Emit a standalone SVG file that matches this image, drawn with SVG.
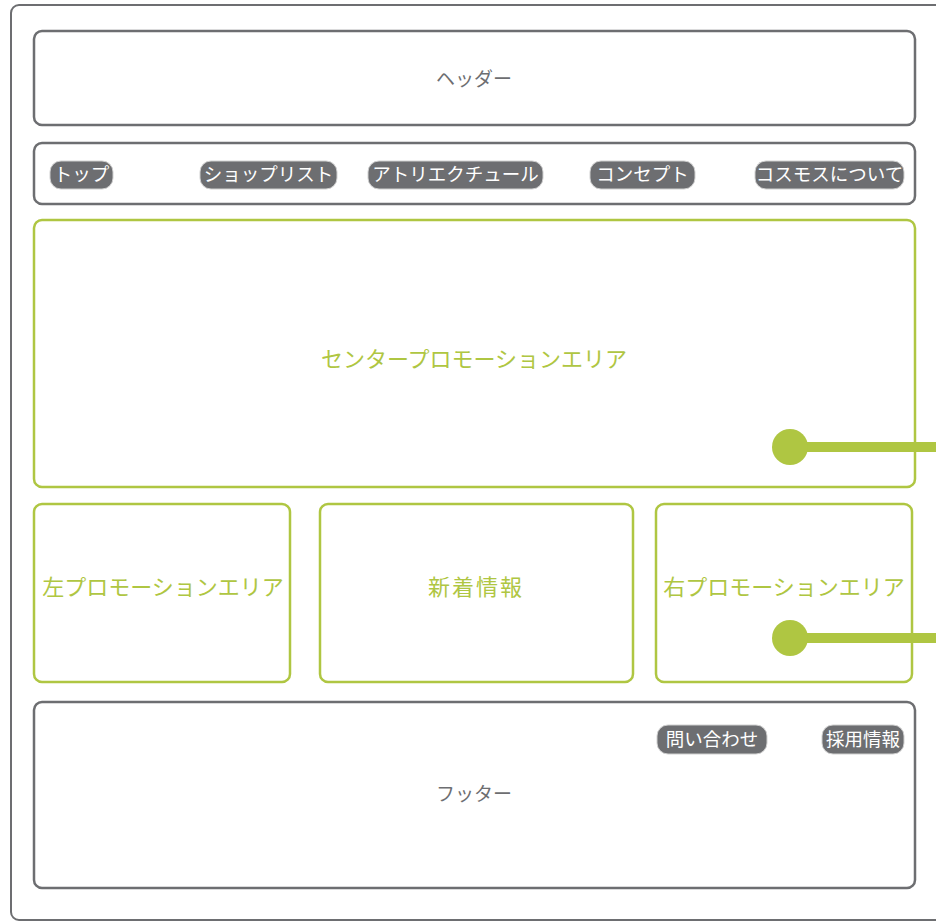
<svg xmlns="http://www.w3.org/2000/svg" width="936" height="922" viewBox="0 0 936 922">
<style>
.g{fill:#fff;stroke:#6d6e71;stroke-width:2.5}
.gr{fill:#fff;stroke:#afc642;stroke-width:2.5}
.pill{fill:#6d6e71;stroke:#d0d0d0;stroke-width:1}
.pt{font-family:"Noto Sans CJK JP","Noto Sans",sans-serif;font-size:18.5px;fill:#fff;text-anchor:middle;dominant-baseline:central}
.lt{font-family:"Noto Sans CJK JP","Noto Sans",sans-serif;font-size:19px;fill:#6d6e71;text-anchor:middle;dominant-baseline:central}
.gt{font-family:"Noto Sans CJK JP","Noto Sans",sans-serif;font-size:22px;fill:#afc642;text-anchor:middle;dominant-baseline:central}
.conn{stroke:#afc642;stroke-width:10;fill:none}
</style>
<rect width="936" height="922" fill="#fff"/>
<rect id="frame" x="11" y="5" width="940" height="915" rx="8" fill="#fff" stroke="#6d6e71" stroke-width="2"/>
<g id="header"><rect class="g" x="34" y="31" width="881" height="94" rx="8"/><text class="lt" x="474" y="77">ヘッダー</text></g>
<g id="nav"><rect class="g" x="34" y="143" width="881" height="61" rx="8"/></g>
<g id="nav-top"><rect class="pill" x="50" y="161" width="63" height="28" rx="11"/><text class="pt" x="81.5" y="173">トップ</text></g>
<g id="nav-shop"><rect class="pill" x="200" y="161" width="137" height="28" rx="11"/><text class="pt" x="268.5" y="173">ショップリスト</text></g>
<g id="nav-atelier"><rect class="pill" x="368" y="161" width="175" height="28" rx="11"/><text class="pt" x="455.5" y="173">アトリエクチュール</text></g>
<g id="nav-concept"><rect class="pill" x="590" y="161" width="105" height="28" rx="11"/><text class="pt" x="642.5" y="173">コンセプト</text></g>
<g id="nav-about"><rect class="pill" x="755" y="161" width="149" height="28" rx="11"/><text class="pt" x="829.5" y="173">コスモスについて</text></g>
<g id="center-promo"><rect class="gr" x="34" y="220" width="881" height="267" rx="8"/><text class="gt" x="474" y="357">センタープロモーションエリア</text></g>
<g id="left-promo"><rect class="gr" x="34" y="504" width="256" height="178" rx="8"/><text class="gt" x="163" y="585">左プロモーションエリア</text></g>
<g id="news"><rect class="gr" x="320" y="504" width="313" height="178" rx="8"/><text class="gt" x="476" y="585" letter-spacing="2">新着情報</text></g>
<g id="right-promo"><rect class="gr" x="656" y="504" width="256" height="178" rx="8"/><text class="gt" x="784" y="585">右プロモーションエリア</text></g>
<g id="footer"><rect class="g" x="34" y="702" width="881" height="186" rx="8"/><text class="lt" x="474" y="792">フッター</text></g>
<g id="footer-contact"><rect class="pill" x="657" y="725" width="110" height="29" rx="11"/><text class="pt" x="712" y="738">問い合わせ</text></g>
<g id="footer-recruit"><rect class="pill" x="822" y="725" width="82" height="29" rx="11"/><text class="pt" x="863" y="738">採用情報</text></g>
<g id="connectors">
<line class="conn" x1="790" y1="447" x2="936" y2="447"/><circle cx="790" cy="447" r="18" fill="#afc642"/>
<line class="conn" x1="790" y1="638" x2="936" y2="638"/><circle cx="790" cy="638" r="18" fill="#afc642"/>
</g>
</svg>
